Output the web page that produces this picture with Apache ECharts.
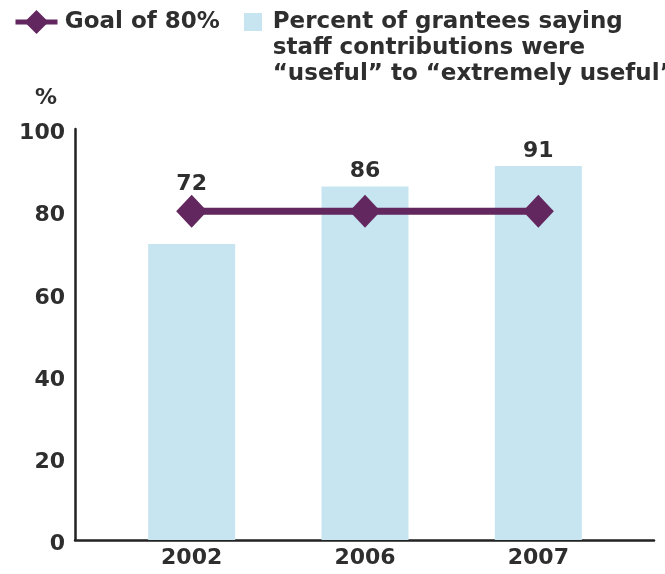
<!DOCTYPE html>
<html>
<head>
<meta charset="utf-8">
<script src="https://cdn.jsdelivr.net/npm/echarts@6/dist/echarts.min.js"></script>
<style>
html,body{margin:0;padding:0;background:#fff;}
#chart{width:665px;height:574px;}
</style>
</head>
<body>
<div id="chart"></div>
<script>
var categories = ['2002', '2006', '2007'];
var usefulValues = [72, 86, 91];
var goalValues = [80, 80, 80];
var yTicks = [0, 20, 40, 60, 80, 100];
var goalName = 'Goal of 80%';
var barName = 'Percent of grantees saying\nstaff contributions were\n\u201cuseful\u201d to \u201cextremely useful\u201d';

var FONT = 'DejaVu Sans';
var TXT = '#2e2e2e';
var PURPLE = '#63275f';
var BLUE = '#c7e5f0';

var barData = usefulValues.map(function (v, i) {
  var item = { value: v };
  if (v < goalValues[i]) {
    item.label = { offset: [0, -45] };
  }
  return item;
});

var chart = echarts.init(document.getElementById('chart'), null, { renderer: 'canvas' });
chart.setOption({
  animation: false,
  backgroundColor: '#ffffff',
  textStyle: { fontFamily: FONT },
  legend: [
    {
      left: 13, top: 10, padding: 0,
      itemWidth: 42, itemHeight: 30, itemGap: 10,
      data: [goalName],
      formatter: function (name) { return '\u200A' + name; },
      textStyle: { fontFamily: FONT, fontWeight: 'bold', fontSize: 23, color: TXT },
      lineStyle: { width: 5 },
      selectedMode: false
    },
    {
      left: 244, top: -43, padding: 0,
      itemWidth: 18, itemHeight: 18,
      data: [{ name: barName, icon: 'rect' }],
      formatter: function (name) {
        return '\n\n' + name.split('\n').map(function (l) { return '\u2005' + l; }).join('\n');
      },
      textStyle: { fontFamily: FONT, fontWeight: 'bold', fontSize: 23, color: TXT, lineHeight: 26 },
      selectedMode: false
    }
  ],
  grid: [
    { left: 105, right: 40, top: 129, bottom: 34 },
    { left: 75, right: 11, top: 129, bottom: 34 }
  ],
  xAxis: [
    {
      type: 'category', gridIndex: 0, data: categories,
      axisLine: { show: false }, axisTick: { show: false },
      axisLabel: { fontFamily: FONT, fontWeight: 'bold', fontSize: 22, color: TXT, margin: 7 }
    },
    {
      type: 'value', gridIndex: 1, min: 0, max: 1,
      axisLine: { show: true, lineStyle: { color: '#222', width: 2.5 } },
      axisTick: { show: false }, axisLabel: { show: false }, splitLine: { show: false }
    }
  ],
  yAxis: [
    { type: 'value', gridIndex: 0, min: 0, max: 100, interval: 20, show: false },
    {
      type: 'value', gridIndex: 1, min: 0, max: 100, interval: 20,
      name: '%', nameLocation: 'end', nameGap: 20,
      nameTextStyle: { fontFamily: FONT, fontWeight: 'bold', fontSize: 22, color: TXT, align: 'right', padding: [0, 18, 0, 0] },
      axisLine: { show: true, lineStyle: { color: '#222', width: 2.5 } },
      axisTick: { show: false }, splitLine: { show: false },
      axisLabel: {
        fontFamily: FONT, fontWeight: 'bold', fontSize: 22, color: TXT, margin: 10,
        verticalAlign: 'top', lineHeight: 9,
        formatter: function (v) { return yTicks.indexOf(v) >= 0 ? String(v) : ''; }
      }
    }
  ],
  series: [
    {
      name: barName, type: 'bar', xAxisIndex: 0, yAxisIndex: 0,
      data: barData, barWidth: 87,
      itemStyle: { color: BLUE },
      label: { show: true, position: 'top', distance: 4, fontFamily: FONT, fontWeight: 'bold', fontSize: 22, color: TXT }
    },
    {
      name: goalName, type: 'line', xAxisIndex: 0, yAxisIndex: 0,
      data: goalValues, z: 5,
      symbol: 'diamond', symbolSize: [31, 33],
      lineStyle: { color: PURPLE, width: 7 },
      itemStyle: { color: PURPLE }
    }
  ]
});
</script>
</body>
</html>
